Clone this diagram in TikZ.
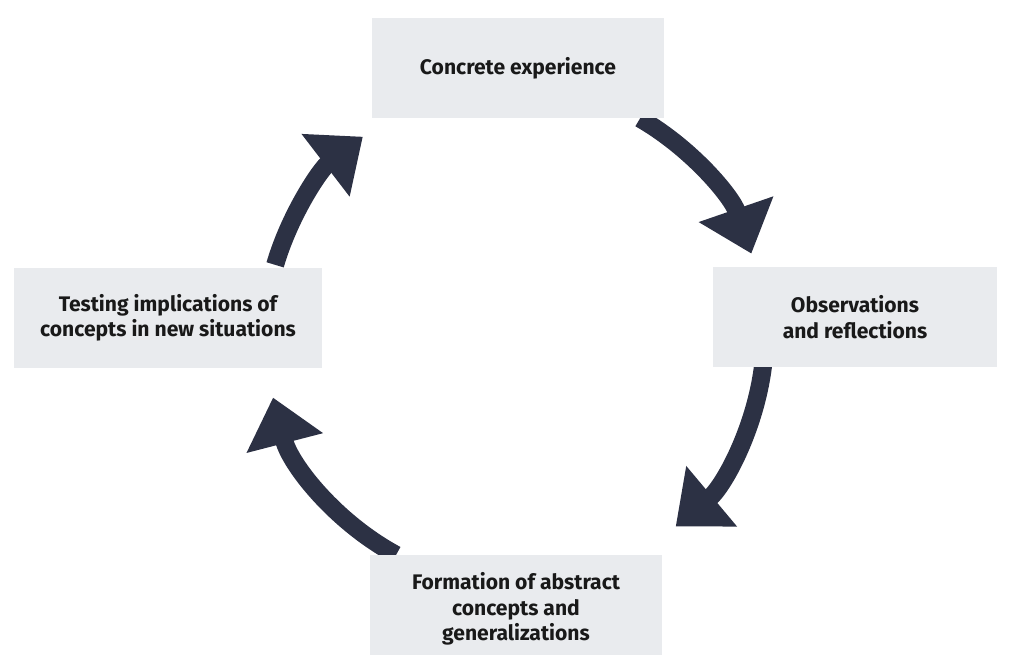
\documentclass[tikz,border=0pt]{standalone}
\usepackage{fontspec}
\setmainfont{Fira Sans}
\usepackage{tikz}
\usetikzlibrary{positioning,arrows.meta,calc}
\definecolor{boxgray}{RGB}{233,235,238}
\definecolor{arrownavy}{RGB}{44,49,68}

\begin{document}
\begin{tikzpicture}[x=0.02cm, y=0.02cm,
        stage/.style={fill=boxgray, minimum height=2cm, align=center, text=black!90,
          font=\bfseries\fontsize{12}{14.5}\selectfont},
        cycle/.style={draw=arrownavy, line width=0.36cm,
          -{Triangle[length=0.94cm, width=1.52cm]}}]
    \useasboundingbox (0,0) rectangle (1011,655);
    \coordinate (O) at (515,320);
    % arrows round the cycle
    \foreach \s/\e in {60/19, -7/-50, 241.6/194.5, 163.7/127.5}
      \draw[cycle] (O) ++(\s:5cm) arc[start angle=\s, end angle=\e, radius=5cm];
    % stages
    \node[stage, minimum width=5.86cm] (concrete) at (518,587) {Concrete experience};
    \node[stage, minimum width=5.7cm] (observe) at (855,338) {Observations\\and reflections};
    \node[stage, minimum width=5.86cm, minimum height=2.16cm] (abstract) at (516,46) {Formation of abstract\\concepts and\\generalizations};
    \node[stage, minimum width=6.18cm] (testing) at (168,337) {Testing implications of\\concepts in new situations};
\end{tikzpicture}
\end{document}
